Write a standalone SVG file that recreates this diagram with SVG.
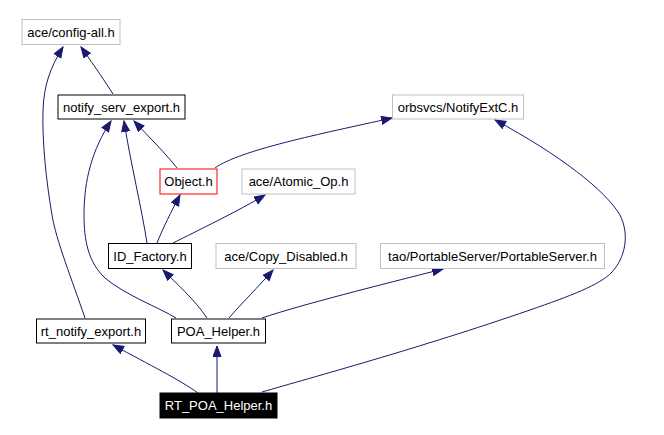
<svg xmlns="http://www.w3.org/2000/svg" width="664" height="435" viewBox="0 0 664 435">
<style>
.n rect{stroke-width:1}
.g rect{fill:#fff;stroke:#bfbfbf}
.b rect{fill:#fff;stroke:#000}
.r rect{fill:#fff;stroke:#ff0000}
.k rect{fill:#000;stroke:#000}
text{font-family:"Liberation Sans",Arial,Helvetica,sans-serif;font-size:13px;text-anchor:middle;fill:#000}
.k text{fill:#fff}
#edges path{fill:none;stroke:#191970;stroke-width:1;marker-end:url(#ah)}
</style>
<defs>
<marker id="ah" markerUnits="userSpaceOnUse" markerWidth="12" markerHeight="10" refX="11" refY="4.5" orient="auto" viewBox="0 0 12 10">
<path d="M0.5,0.5 L11,4.5 L0.5,8.5 z" fill="#191970" stroke="#191970" stroke-width="1"/>
</marker>
</defs>
<rect width="664" height="435" fill="#fff"/>
<g id="edges">
<path d="M113,94 C106,83 96,68 81,47"/>
<path d="M85,318 C72,280 56,240 52,215 C46,180 42,140 43,110 C44,85 50,68 63,47"/>
<path d="M177,168 C167,155 150,138 134,121"/>
<path d="M147,243 C142,210 130,160 124,121"/>
<path d="M176,318 C160,308 125,295 105,278 C88,262 84,240 84,215 C84,180 92,150 111,121"/>
<path d="M157,243 C162,230 172,210 180,195"/>
<path d="M173,243 C195,232 240,210 265,195"/>
<path d="M215,168 C240,150 320,134 392,118"/>
<path d="M207,318 C195,300 175,282 163,270"/>
<path d="M229,318 C240,305 260,285 273,270"/>
<path d="M262,318 C300,305 380,285 443,269"/>
<path d="M198,393 C180,380 150,365 113,345"/>
<path d="M217,393 L217,346"/>
<path d="M262,392 C310,378 420,348 530,310 C570,296 600,285 612,272 C625,258 630,235 620,215 C605,190 560,155 495,120"/>
</g>
<g id="n_config_all" class="n g"><rect x="22" y="19.5" width="98" height="25"/><text x="71" y="36.5">ace/config-all.h</text></g>
<g id="n_notify_serv_export" class="n b"><rect x="58" y="95" width="127" height="24"/><text x="121.5" y="111.5">notify_serv_export.h</text></g>
<g id="n_notifyextc" class="n g"><rect x="392.5" y="95" width="131" height="24"/><text x="458" y="111.5">orbsvcs/NotifyExtC.h</text></g>
<g id="n_object" class="n r"><rect x="160" y="169" width="57" height="25"/><text x="188.5" y="186">Object.h</text></g>
<g id="n_atomic_op" class="n g"><rect x="242" y="169" width="113" height="25"/><text x="298.5" y="186">ace/Atomic_Op.h</text></g>
<g id="n_id_factory" class="n b"><rect x="108.5" y="243.5" width="83" height="25"/><text x="150" y="260.5">ID_Factory.h</text></g>
<g id="n_copy_disabled" class="n g"><rect x="216" y="243.5" width="140" height="25"/><text x="286" y="260.5">ace/Copy_Disabled.h</text></g>
<g id="n_portableserver" class="n g"><rect x="380.5" y="243.5" width="224" height="25"/><text x="492.5" y="260.5">tao/PortableServer/PortableServer.h</text></g>
<g id="n_rt_notify_export" class="n b"><rect x="36.5" y="319" width="109" height="24"/><text x="91" y="335.5">rt_notify_export.h</text></g>
<g id="n_poa_helper" class="n b"><rect x="171.5" y="319" width="94" height="24"/><text x="218.5" y="335.5">POA_Helper.h</text></g>
<g id="n_rt_poa_helper" class="n k"><rect x="160" y="393" width="117" height="25"/><text x="218.5" y="410">RT_POA_Helper.h</text></g>
</svg>
